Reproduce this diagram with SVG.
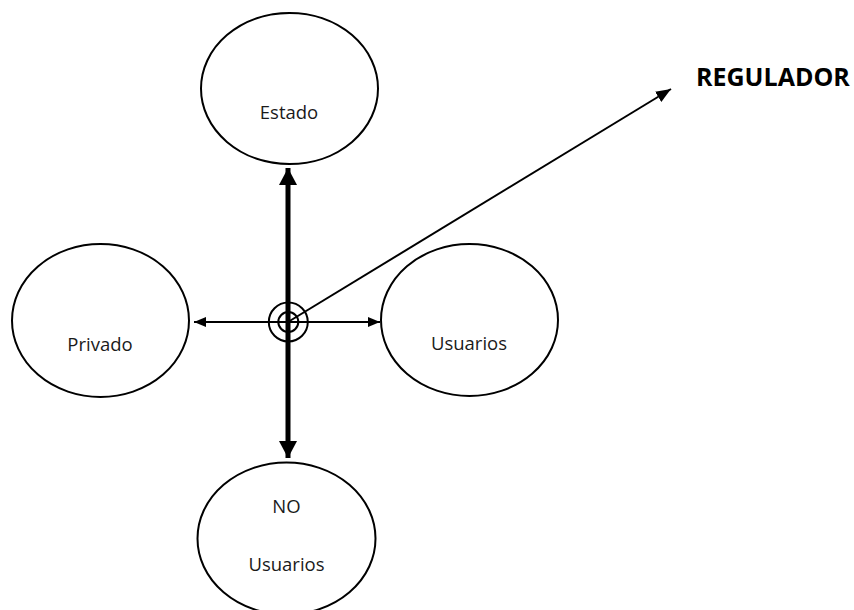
<svg xmlns="http://www.w3.org/2000/svg" width="854" height="610" viewBox="0 0 854 610">
  <style>
    .node ellipse { fill: #ffffff; stroke: #000000; stroke-width: 2; }
    .label { font-family: "Open Sans", "Liberation Sans", sans-serif; font-size: 18.5px; fill: #1a1a1a; text-anchor: middle; }
    .title { font-family: "Open Sans", "Liberation Sans", sans-serif; font-size: 25px; font-weight: bold; fill: #000000; }
    .thin { stroke: #000000; stroke-width: 2; fill: none; }
    .thick { stroke: #000000; stroke-width: 5; fill: none; }
  </style>
  <defs>
    <marker id="head" viewBox="0 0 12 10" refX="12" refY="5" markerWidth="12" markerHeight="10" markerUnits="userSpaceOnUse" orient="auto-start-reverse">
      <path d="M0,0 L12,5 L0,10 Z" fill="#000000"/>
    </marker>
    <marker id="headMid" viewBox="0 0 15 12" refX="15" refY="6" markerWidth="15" markerHeight="12" markerUnits="userSpaceOnUse" orient="auto">
      <path d="M0,0 L15,6 L0,12 Z" fill="#000000"/>
    </marker>
    <marker id="headBig" viewBox="0 0 17 18" refX="17" refY="9" markerWidth="17" markerHeight="18" markerUnits="userSpaceOnUse" orient="auto-start-reverse">
      <path d="M0,0 L17,9 L0,18 Z" fill="#000000"/>
    </marker>
  </defs>

  <rect width="854" height="610" fill="#ffffff"/>

  <g id="estado" class="node">
    <ellipse cx="289.5" cy="88.5" rx="88.5" ry="75.5"/>
    <text class="label" x="289" y="119">Estado</text>
  </g>

  <g id="privado" class="node">
    <ellipse cx="100.5" cy="320.5" rx="88.5" ry="76.5"/>
    <text class="label" x="100" y="350.5">Privado</text>
  </g>

  <g id="usuarios" class="node">
    <ellipse cx="469.5" cy="320" rx="88.5" ry="76"/>
    <text class="label" x="469" y="350">Usuarios</text>
  </g>

  <g id="no-usuarios" class="node">
    <ellipse cx="286.5" cy="538.5" rx="89" ry="76"/>
    <text class="label" x="286.5" y="512.5">NO</text>
    <text class="label" x="286.5" y="570.5">Usuarios</text>
  </g>

  <g id="regulador">
    <text class="title" x="696" y="86">REGULADOR</text>
  </g>

  <g id="connectors">
    <!-- vertical axis: Estado <-> NO Usuarios -->
    <line class="thick" x1="288" y1="168" x2="288" y2="458" marker-start="url(#headBig)" marker-end="url(#headBig)"/>
    <!-- horizontal axis: Privado <-> Usuarios -->
    <line class="thin" x1="194" y1="322" x2="380" y2="322" marker-start="url(#head)" marker-end="url(#head)"/>
    <!-- diagonal towards REGULADOR -->
    <line class="thin" x1="288" y1="322" x2="671" y2="89" marker-end="url(#headMid)"/>
    <!-- central target -->
    <circle class="thin" cx="288.3" cy="322" r="19.5"/>
    <circle class="thin" cx="288.3" cy="322" r="10"/>
  </g>
</svg>
